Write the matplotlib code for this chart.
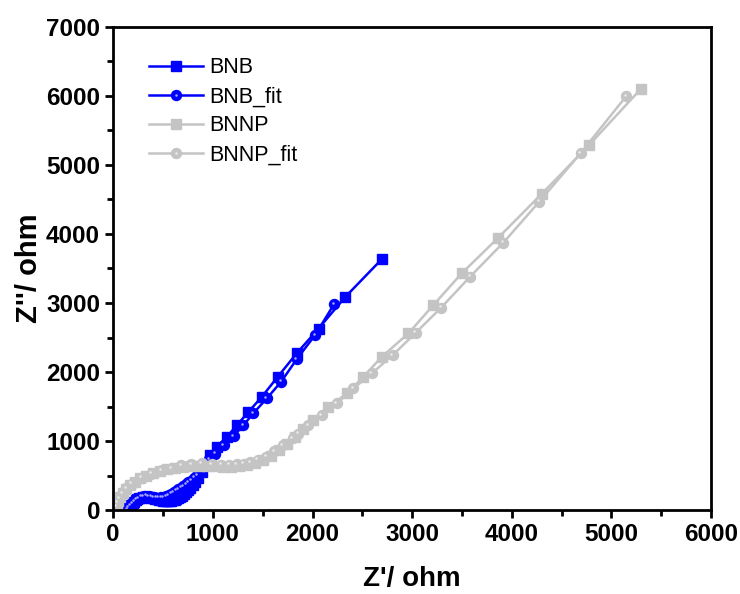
import matplotlib
matplotlib.use("Agg")
import matplotlib.pyplot as plt
from matplotlib.ticker import MultipleLocator
from matplotlib.transforms import offset_copy

plt.rcParams['font.family'] = ['Liberation Sans', 'DejaVu Sans']

# BNB measured (squares)
bnb_x = [135, 150, 165, 180, 195, 210, 225, 240, 258, 276, 295, 315, 335, 355, 375, 395,
         415, 435, 455, 475, 495, 515, 535, 555, 575, 595, 615, 635, 655, 675, 695, 715,
         735, 755, 775, 800, 825, 850, 890, 930, 973, 1040, 1140, 1240, 1355, 1490, 1650,
         1840, 2060, 2330, 2695]
bnb_y = [5, 30, 55, 80, 105, 125, 143, 158, 172, 183, 190, 193, 192, 188, 182, 175,
         167, 160, 152, 146, 141, 138, 136, 136, 138, 142, 149, 158, 172, 190, 212, 238,
         265, 295, 328, 370, 415, 460, 550, 665, 797, 920, 1060, 1230, 1420, 1640, 1930,
         2270, 2630, 3090, 3635]

# BNB fit (circles)
bnbfit_x = [140, 155, 172, 190, 210, 232, 255, 280, 305, 330, 355, 380, 405, 430, 455, 480,
            505, 530, 555, 580, 605, 630, 655, 680, 705, 730, 755, 780, 810, 840, 875, 915,
            965, 1023, 1107, 1207, 1307, 1407, 1541, 1685, 1842, 2026, 2217]
bnbfit_y = [10, 40, 72, 102, 130, 155, 177, 195, 205, 208, 205, 198, 190, 184, 182, 185,
            193, 205, 222, 242, 262, 283, 305, 328, 352, 377, 403, 430, 470, 510, 560, 635,
            735, 821, 942, 1072, 1232, 1405, 1619, 1860, 2188, 2536, 2986]

# BNNP measured (squares)
bnnp_x = [25, 35, 50, 70, 95, 125, 165, 215, 270, 330, 395, 465, 540, 620, 700, 780,
          860, 940, 1020, 1100, 1180, 1260, 1340, 1420, 1500, 1580, 1660, 1740, 1820,
          1900, 2009, 2160, 2344, 2511, 2695, 2962, 3213, 3497, 3861, 4300, 4777, 5293]
bnnp_y = [20, 70, 130, 190, 250, 305, 360, 415, 460, 500, 535, 565, 590, 610, 625, 635,
          640, 640, 636, 632, 632, 638, 652, 680, 725, 790, 870, 960, 1060,
          1170, 1304, 1497, 1691, 1932, 2222, 2560, 2971, 3430, 3942, 4580, 5290, 6097]

# BNNP fit (circles)
bnnpfit_x = [30, 40, 60, 90, 130, 184, 284, 384, 485, 585, 685, 785, 886, 990, 1082,
             1165, 1240, 1308, 1374, 1449, 1533, 1616, 1700, 1800, 1859, 1959, 2093,
             2244, 2410, 2595, 2805, 3036, 3290, 3581, 3915, 4276, 4691, 5145]
bnnpfit_y = [60, 110, 170, 240, 320, 386, 469, 531, 580, 613, 648, 670, 678, 668, 662,
             660, 664, 676, 699, 731, 778, 852, 938, 1040, 1111, 1232, 1377,
             1546, 1763, 1981, 2246, 2570, 2932, 3381, 3874, 4468, 5170, 5990]

blue = '#0000ff'
gray = '#c4c4c4'

fig = plt.figure(figsize=(7.4, 5.94), dpi=100)
ax = fig.add_axes([0.153, 0.141, 0.808, 0.814])

# small highlight dot on the circle markers (sphere look)
hl = offset_copy(ax.transData, fig=fig, x=-1.0, y=1.0, units='points')

l1, = ax.plot(bnb_x, bnb_y, color=blue, lw=1.8, marker='s', ms=6.5, mec=blue, mfc=blue)
l2, = ax.plot(bnbfit_x, bnbfit_y, color=blue, lw=1.8, marker='o', ms=7.2, mec=blue, mfc=blue)
h2, = ax.plot(bnbfit_x, bnbfit_y, ls='none', marker='o', ms=1.8, mec='none', mfc='#a8a8ff',
              transform=hl)
l3, = ax.plot(bnnp_x, bnnp_y, color=gray, lw=1.8, marker='s', ms=6.5, mec=gray, mfc=gray)
l4, = ax.plot(bnnpfit_x, bnnpfit_y, color=gray, lw=1.8, marker='o', ms=7.2, mec=gray, mfc=gray)
h4, = ax.plot(bnnpfit_x, bnnpfit_y, ls='none', marker='o', ms=1.8, mec='none', mfc='#ebebeb',
              transform=hl)

ax.set_xlim(0, 6000)
ax.set_ylim(0, 7000)
ax.xaxis.set_major_locator(MultipleLocator(1000))
ax.xaxis.set_minor_locator(MultipleLocator(500))
ax.yaxis.set_major_locator(MultipleLocator(1000))
ax.yaxis.set_minor_locator(MultipleLocator(500))
ax.tick_params(which='major', direction='out', length=6, width=2, labelsize=17.5)
ax.tick_params(which='minor', direction='out', length=4, width=2)
for lab in ax.get_xticklabels() + ax.get_yticklabels():
    lab.set_fontweight('bold')
for s in ax.spines.values():
    s.set_linewidth(2)

ax.set_xlabel("Z'/ ohm", fontsize=20, fontweight='bold', labelpad=14)
ax.set_ylabel("Z''/ ohm", fontsize=21, fontweight='bold', labelpad=2)

ax.legend([l1, (l2, h2), l3, (l4, h4)], ['BNB', 'BNB_fit', 'BNNP', 'BNNP_fit'],
          loc='upper left', bbox_to_anchor=(0.045, 0.955), frameon=False, fontsize=15.5,
          handlelength=2.5, handletextpad=0.3, labelspacing=0.38, borderaxespad=0)

fig.savefig('out.png', dpi=100)
